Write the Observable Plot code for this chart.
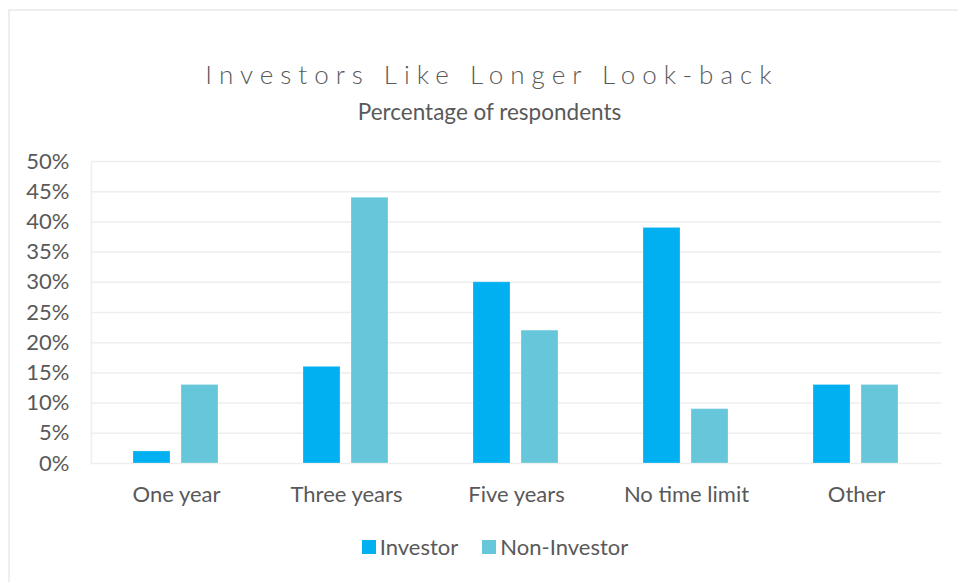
<!DOCTYPE html>
<html><head><meta charset="utf-8">
<script src="https://cdn.jsdelivr.net/npm/d3@7"></script>
<script src="https://cdn.jsdelivr.net/npm/@observablehq/plot@0.6"></script>
<style>
body{margin:0;background:#fff;font-family:Lato,sans-serif;color:#595959;}
#wrap{position:relative;width:958px;height:582px;overflow:hidden;background:#fff;}
#border{position:absolute;left:8px;top:9px;width:1000px;height:600px;border-left:2px solid #eeeeee;border-top:2px solid #eeeeee;}
#title{position:absolute;top:58px;left:0;width:958px;padding-left:26px;box-sizing:border-box;text-align:center;font-size:26px;letter-spacing:7px;font-weight:300;white-space:nowrap;}
#subtitle{position:absolute;top:98px;left:0;width:958px;padding-left:21px;box-sizing:border-box;text-align:center;font-size:22.5px;white-space:nowrap;}
#chart{position:absolute;left:0;top:140px;}
#legend{position:absolute;left:0;top:532px;width:958px;padding-left:32px;box-sizing:border-box;display:flex;justify-content:center;align-items:center;font-size:22px;line-height:30px;}
.item{display:flex;align-items:center;margin:0 12px;}
.sw{width:14px;height:14px;margin-right:4px;}
</style></head>
<body>
<div id="wrap">
  <div id="border"></div>
  <div id="title">Investors Like Longer Look-back</div>
  <div id="subtitle">Percentage of respondents</div>
  <div id="chart"></div>
  <div id="legend"></div>
</div>
<script>
const categories = ["One year", "Three years", "Five years", "No time limit", "Other"];
const series = ["Investor", "Non-Investor"];
const investor = [2, 16, 30, 39, 13];
const nonInvestor = [13, 44, 22, 9, 13];
const yTicks = [0, 5, 10, 15, 20, 25, 30, 35, 40, 45, 50];
const colors = ["#00B0F0", "#66C7DA"];

const table = [];
categories.forEach((c, i) => {
  table.push({category: c, series: series[0], value: investor[i]});
  table.push({category: c, series: series[1], value: nonInvestor[i]});
});

const plot = Plot.plot({
  width: 958, height: 380,
  marginTop: 21, marginBottom: 57, marginLeft: 90, marginRight: 17,
  style: {fontFamily: "Lato, sans-serif", fontSize: "22px", color: "#595959", background: "transparent", overflow: "visible"},
  fx: {domain: categories, padding: 0, axis: "bottom", tickSize: 0, tickPadding: 23, label: null},
  x: {domain: series, paddingInner: 0.224, paddingOuter: 0.857, axis: null},
  y: {domain: [0, 50], ticks: yTicks, tickFormat: d => d + "%", tickSize: 0, tickPadding: 22, label: null},
  color: {domain: series, range: colors},
  marks: [
    Plot.ruleY(yTicks, {stroke: "#eeeeee", strokeWidth: 1.5}),
    Plot.frame({anchor: "left", facetAnchor: "left", stroke: "#eeeeee", strokeWidth: 1.5}),
    Plot.barY(table, {fx: "category", x: "series", y: "value", fill: "series", stroke: "#ffffff", strokeOpacity: 0.25, strokeWidth: 1})
  ]
});
document.getElementById("chart").appendChild(plot);

const legend = document.getElementById("legend");
const color = plot.scale("color");
series.forEach(s => {
  const item = document.createElement("div");
  item.className = "item";
  const sw = document.createElement("span");
  sw.className = "sw";
  sw.style.background = color.apply(s);
  const label = document.createElement("span");
  label.textContent = s;
  item.appendChild(sw);
  item.appendChild(label);
  legend.appendChild(item);
});
</script>
</body></html>
